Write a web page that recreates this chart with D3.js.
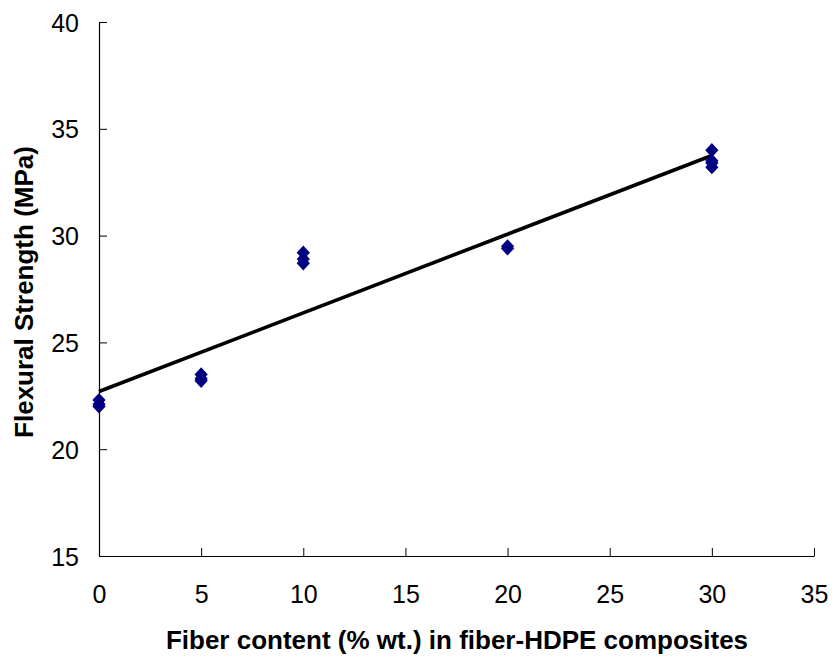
<!DOCTYPE html>
<html><head><meta charset="utf-8">
<script src="https://cdn.jsdelivr.net/npm/d3@7"></script>
<style>body{margin:0;background:#fff;}svg{display:block;}text{font-family:"Liberation Sans",Arial,sans-serif;}</style>
</head><body><svg id="c" width="833" height="657"></svg>
<script>
const fiberContent = [0,0,0, 5,5,5, 10,10,10, 20,20, 30,30,30,30];
const flexStrength = [22.0,22.1,22.3, 23.2,23.3,23.5, 28.7,28.9,29.2, 29.4,29.5, 33.2,33.4,33.5,34.0];
const fitX = [0, 30];
const fitY = [22.7, 33.75];
const xTicks = [0,5,10,15,20,25,30,35];
const yTicks = [15,20,25,30,35,40];
const xTitle = "Fiber content (% wt.) in fiber-HDPE composites";
const yTitle = "Flexural Strength (MPa)";

const svg = d3.select("#c");
const x = d3.scaleLinear().domain([0,35]).range([99,814]);
const y = d3.scaleLinear().domain([15,40]).range([556,22]);

const gx = svg.append("g").attr("transform","translate(0,556)")
  .call(d3.axisBottom(x).tickValues(xTicks).tickSizeInner(-8).tickSizeOuter(0).tickPadding(29));
const gy = svg.append("g").attr("transform","translate(99,0)")
  .call(d3.axisLeft(y).tickValues(yTicks).tickSizeInner(-8).tickSizeOuter(0).tickPadding(20));
[gx,gy].forEach(g=>{
  g.select(".domain").attr("stroke","#000").attr("stroke-width",1.2);
  g.selectAll(".tick line").attr("stroke","#000").attr("stroke-width",1);
  g.selectAll(".tick text").attr("font-size",25).attr("fill","#000").attr("font-family","Liberation Sans, Arial, sans-serif");
});
gy.selectAll(".tick text").attr("dy","0.36em");

svg.append("text").attr("x",457).attr("y",649).attr("text-anchor","middle")
  .attr("font-size",26).attr("font-weight","bold").text(xTitle);
svg.append("text").attr("transform","translate(33,292) rotate(-90)").attr("text-anchor","middle")
  .attr("font-size",26).attr("font-weight","bold").text(yTitle);

svg.append("line").attr("x1",x(fitX[0])).attr("y1",y(fitY[0])).attr("x2",x(fitX[1])).attr("y2",y(fitY[1]))
  .attr("stroke","#000").attr("stroke-width",3.6);

const diamond = d3.symbol().type(d3.symbolDiamond2).size(112);
svg.append("g").selectAll("path").data(fiberContent.map((f,i)=>[f,flexStrength[i]])).join("path")
  .attr("d",diamond)
  .attr("transform",d=>`translate(${x(d[0])},${y(d[1])}) scale(1,1.07)`)
  .attr("fill","#000080");
</script></body></html>
